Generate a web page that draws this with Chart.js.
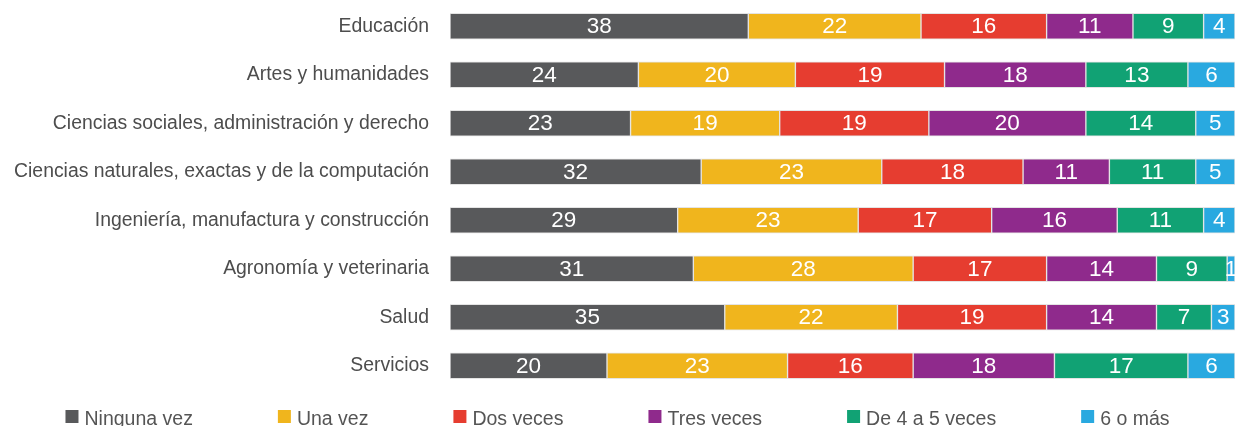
<!DOCTYPE html>
<html>
<head>
<meta charset="utf-8">
<script src="https://cdn.jsdelivr.net/npm/chart.js@4"></script>
<style>
  body { margin: 0; background: #fff; }
  #wrap { width: 1235px; height: 426px; position: relative; }
</style>
</head>
<body>
<div id="wrap"><canvas id="mycanvas"></canvas></div>
<script>
var categorias = [
  "Educación",
  "Artes y humanidades",
  "Ciencias sociales, administración y derecho",
  "Ciencias naturales, exactas y de la computación",
  "Ingeniería, manufactura y construcción",
  "Agronomía y veterinaria",
  "Salud",
  "Servicios"
];
var ninguna = [38, 24, 23, 32, 29, 31, 35, 20];
var unaVez  = [22, 20, 19, 23, 23, 28, 22, 23];
var dos     = [16, 19, 19, 18, 17, 17, 19, 16];
var tres    = [11, 18, 20, 11, 16, 14, 14, 18];
var deCuatro= [9, 13, 14, 11, 11, 9, 7, 17];
var seisMas = [4, 6, 5, 5, 4, 1, 3, 6];

var series = ["Ninguna vez", "Una vez", "Dos veces", "Tres veces", "De 4 a 5 veces", "6 o más"];
var colores = ["#58595b", "#f0b51d", "#e63d30", "#8f2a8c", "#11a274", "#29a9e0"];
var valores = [ninguna, unaVez, dos, tres, deCuatro, seisMas];

var fuente = "'Liberation Sans', Arial, sans-serif";

var datasets = [];
for (var i in series) {
  datasets.push({
    label: series[i],
    data: valores[i],
    backgroundColor: colores[i],
    borderColor: "rgba(225,225,225,0.9)",
    borderWidth: 1,
    borderSkipped: false,
    barThickness: 26
  });
}

// numeros blancos dentro de cada segmento
var etiquetas = {
  id: "etiquetas",
  afterDatasetsDraw: function(chart) {
    var ctx = chart.ctx;
    ctx.save();
    ctx.fillStyle = "#fff";
    ctx.font = "22.5px " + fuente;
    ctx.textAlign = "center";
    ctx.textBaseline = "middle";
    chart.data.datasets.forEach(function(ds, d) {
      chart.getDatasetMeta(d).data.forEach(function(bar, j) {
        var x = (bar.x + bar.base) / 2;
        ctx.fillText(ds.data[j], x, bar.y + 1);
      });
    });
    ctx.restore();
  }
};

// leyenda abajo, centrada
var leyenda = {
  id: "leyenda",
  afterDraw: function(chart) {
    var ctx = chart.ctx;
    var caja = 13, sep = 6, gap = 85, base = 425;
    ctx.save();
    ctx.font = "19.5px " + fuente;
    ctx.textBaseline = "alphabetic";
    var anchos = series.map(function(s) { return caja + sep + ctx.measureText(s).width; });
    var total = anchos.reduce(function(a, b) { return a + b; }, 0) + gap * (series.length - 1);
    var x = (chart.width - total) / 2;
    series.forEach(function(s, i) {
      ctx.fillStyle = colores[i];
      ctx.fillRect(x, 410, caja, caja);
      ctx.fillStyle = "#555";
      ctx.fillText(s, x + caja + sep, base);
      x += anchos[i] + gap;
    });
    ctx.restore();
  }
};

var ctx = document.getElementById("mycanvas");
var grafico = new Chart(ctx, {
  type: "bar",
  data: { labels: categorias, datasets: datasets },
  options: {
    indexAxis: "y",
    animation: false,
    responsive: true,
    maintainAspectRatio: false,
    layout: { padding: { top: 2, bottom: 36, left: 0, right: 0 } },
    plugins: {
      legend: { display: false },
      tooltip: { enabled: false }
    },
    scales: {
      x: {
        stacked: true,
        min: 0,
        max: 100,
        display: false
      },
      y: {
        stacked: true,
        grid: { display: false },
        border: { display: false },
        ticks: {
          color: "#4d4d4d",
          font: { family: fuente, size: 19.4 },
          padding: 13
        },
        afterFit: function(scale) {
          scale.width = 450;
          scale.paddingTop = 0;
          scale.paddingBottom = 0;
        }
      }
    }
  },
  plugins: [etiquetas, leyenda]
});
</script>
</body>
</html>
